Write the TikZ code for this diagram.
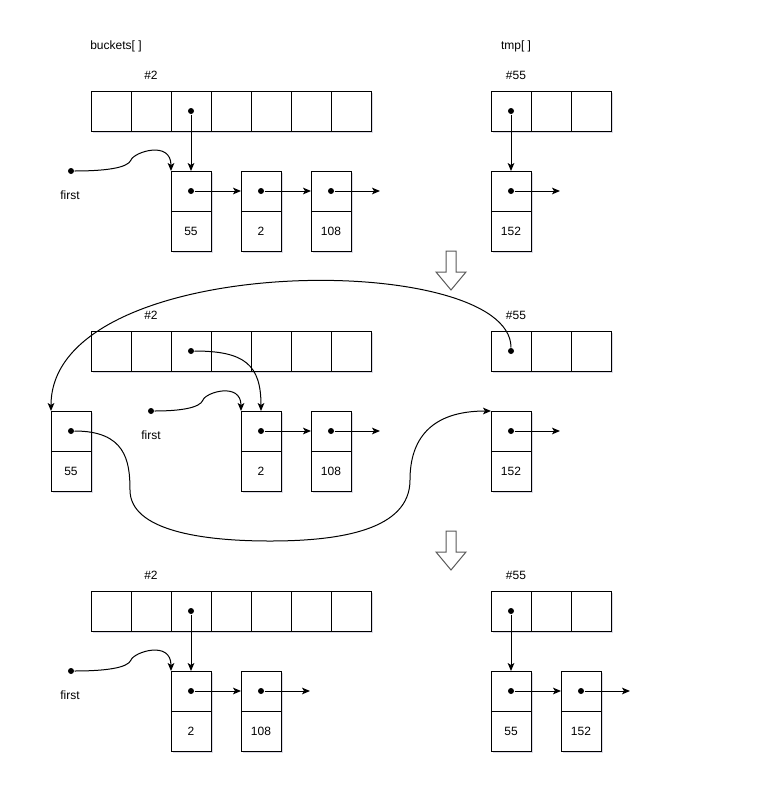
\documentclass[tikz,border=0pt]{standalone}
\usepackage{fontspec}
\setsansfont{Liberation Sans}
\usepackage{tikz}
\usetikzlibrary{arrows.meta, positioning, shadows}

\begin{document}
\begin{tikzpicture}[x=0.75pt, y=-0.75pt, line width=0.75pt,
  every node/.style={font=\sffamily\fontsize{9}{11}\selectfont},
  cell/.style={draw, fill=white, minimum width=30pt, minimum height=30pt, inner sep=0pt, outer sep=0pt,
    drop shadow={shadow xshift=1.2pt, shadow yshift=-1.2pt, opacity=0.25, fill=blue!20!gray}},
  dot/.style={circle, fill=black, inner sep=0pt, minimum size=4.5pt},
  link/.style={-{Stealth[length=6pt, width=5pt, inset=1.5pt]}},
  bigarrow/.style={draw=gray!70!black, fill=white}]
  \useasboundingbox (0,0) rectangle (781,801);

  % Titles
  \node (lblbuckets) at (116,46) {buckets[ ]};
  \node (lbltmp) at (516,46) {tmp[ ]};

  % ---- Step 1 ----
  \node (hasha2) at (151,75) {\#2};
  \node (hasha55) at (516,75) {\#55};
  \foreach \i in {1,...,7} \node[cell] (ba\i) at ({71+40*\i},111) {};
  \foreach \i in {1,2,3} \node[cell] (ta\i) at ({471+40*\i},111) {};

  \node[cell] (na55) at (191,191) {};
  \node[cell, below=0pt of na55] (va55) {55};
  \node[cell] (na2) at (261,191) {};
  \node[cell, below=0pt of na2] (va2) {2};
  \node[cell] (na108) at (331,191) {};
  \node[cell, below=0pt of na108] (va108) {108};
  \node[cell] (na152) at (511,191) {};
  \node[cell, below=0pt of na152] (va152) {152};

  \node[dot] (dba3) at (ba3) {};
  \node[dot] (dta1) at (ta1) {};
  \node[dot] (dna55) at (na55) {};
  \node[dot] (dna2) at (na2) {};
  \node[dot] (dna108) at (na108) {};
  \node[dot] (dna152) at (na152) {};
  \coordinate (ena108) at (380,191);
  \coordinate (ena152) at (560,191);

  \node[dot] (dfirsta) at (71,171) {};
  \node (lblfirsta) at (70,195) {first};

  \draw[link] (dba3) -- (na55);
  \draw[link] (dta1) -- (na152);
  \draw[link] (dna55) -- (na2);
  \draw[link] (dna2) -- (na108);
  \draw[link] (dna108) -- (ena108);
  \draw[link] (dna152) -- (ena152);
  \draw[link] (dfirsta) .. controls (105,171) and (128,168) .. (131,160)
    .. controls (134,152) and (171,140) .. (na55.north west);

  % Down arrows
  \foreach \y in {0,280}
    \draw[bigarrow, yshift=-0.75*\y pt] (446,251) -- (456,251) -- (456,272) -- (466,272)
      -- (451,290) -- (436,272) -- (446,272) -- cycle;

  % ---- Step 2 ----
  \node (hashb2) at (151,315) {\#2};
  \node (hashb55) at (516,315) {\#55};
  \foreach \i in {1,...,7} \node[cell] (bb\i) at ({71+40*\i},351) {};
  \foreach \i in {1,2,3} \node[cell] (tb\i) at ({471+40*\i},351) {};

  \node[cell] (nb55) at (71,431) {};
  \node[cell, below=0pt of nb55] (vb55) {55};
  \node[cell] (nb2) at (261,431) {};
  \node[cell, below=0pt of nb2] (vb2) {2};
  \node[cell] (nb108) at (331,431) {};
  \node[cell, below=0pt of nb108] (vb108) {108};
  \node[cell] (nb152) at (511,431) {};
  \node[cell, below=0pt of nb152] (vb152) {152};

  \node[dot] (dbb3) at (bb3) {};
  \node[dot] (dtb1) at (tb1) {};
  \node[dot] (dnb55) at (nb55) {};
  \node[dot] (dnb2) at (nb2) {};
  \node[dot] (dnb108) at (nb108) {};
  \node[dot] (dnb152) at (nb152) {};
  \coordinate (enb108) at (380,431);
  \coordinate (enb152) at (560,431);

  \node[dot] (dfirstb) at (151,411) {};
  \node (lblfirstb) at (151,435) {first};

  \draw[link] (dnb2) -- (nb108);
  \draw[link] (dnb108) -- (enb108);
  \draw[link] (dnb152) -- (enb152);
  \draw[link] (dbb3) .. controls (245,351) and (261,365) .. (nb2.north);
  \draw[link] (dfirstb) .. controls (180,411) and (200,408) .. (203,400)
    .. controls (206,392) and (241,382) .. (nb2.north west);
  \draw[link] (dtb1) .. controls (511,250) and (51,250) .. (nb55.north west);
  \draw[link] (dnb55) .. controls (125,431) and (130,460) .. (130,490)
    .. controls (130,530) and (200,541) .. (270,541)
    .. controls (340,541) and (410,530) .. (410,480)
    .. controls (410,440) and (430,411) .. (nb152.north west);

  % ---- Step 3 ----
  \node (hashc2) at (151,575) {\#2};
  \node (hashc55) at (516,575) {\#55};
  \foreach \i in {1,...,7} \node[cell] (bc\i) at ({71+40*\i},611) {};
  \foreach \i in {1,2,3} \node[cell] (tc\i) at ({471+40*\i},611) {};

  \node[cell] (nc2) at (191,691) {};
  \node[cell, below=0pt of nc2] (vc2) {2};
  \node[cell] (nc108) at (261,691) {};
  \node[cell, below=0pt of nc108] (vc108) {108};
  \node[cell] (nc55) at (511,691) {};
  \node[cell, below=0pt of nc55] (vc55) {55};
  \node[cell] (nc152) at (581,691) {};
  \node[cell, below=0pt of nc152] (vc152) {152};

  \node[dot] (dbc3) at (bc3) {};
  \node[dot] (dtc1) at (tc1) {};
  \node[dot] (dnc2) at (nc2) {};
  \node[dot] (dnc108) at (nc108) {};
  \node[dot] (dnc55) at (nc55) {};
  \node[dot] (dnc152) at (nc152) {};
  \coordinate (enc108) at (310,691);
  \coordinate (enc152) at (630,691);

  \node[dot] (dfirstc) at (71,671) {};
  \node (lblfirstc) at (70,695) {first};

  \draw[link] (dbc3) -- (nc2);
  \draw[link] (dtc1) -- (nc55);
  \draw[link] (dnc2) -- (nc108);
  \draw[link] (dnc108) -- (enc108);
  \draw[link] (dnc55) -- (nc152);
  \draw[link] (dnc152) -- (enc152);
  \draw[link] (dfirstc) .. controls (105,671) and (128,668) .. (131,660)
    .. controls (134,652) and (171,640) .. (nc2.north west);
\end{tikzpicture}
\end{document}
